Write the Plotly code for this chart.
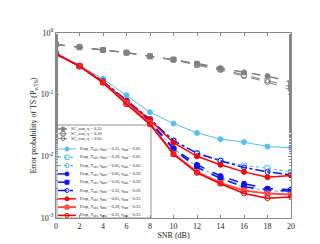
import plotly.graph_objects as go

snr = [0, 2, 4, 6, 8, 10, 12, 14, 16, 18, 20]
snr_ticks = [0, 2, 4, 6, 8, 10, 12, 14, 16, 18, 20]

sc_035 = [0.65, 0.59, 0.53, 0.48, 0.42, 0.37, 0.32, 0.27, 0.23, 0.20, 0.16]
sc_020 = [0.65, 0.59, 0.53, 0.48, 0.42, 0.37, 0.31, 0.26, 0.21, 0.17, 0.135]
sc_005 = [0.65, 0.59, 0.53, 0.48, 0.42, 0.37, 0.30, 0.25, 0.20, 0.16, 0.12]

lb_035 = [0.46, 0.30, 0.18, 0.098, 0.052, 0.034, 0.024, 0.019, 0.017, 0.0144, 0.0138]
lb_020 = [0.46, 0.29, 0.165, 0.080, 0.040, 0.018, 0.0112, 0.0085, 0.0071, 0.0064, 0.0056]
lb_005 = [0.46, 0.29, 0.16, 0.076, 0.036, 0.0135, 0.0068, 0.0045, 0.0031, 0.0028, 0.0026]

b_005 = [0.46, 0.29, 0.16, 0.077, 0.037, 0.0135, 0.0073, 0.0048, 0.0036, 0.0030, 0.0029]
b_020 = [0.46, 0.29, 0.16, 0.076, 0.036, 0.013, 0.0066, 0.0044, 0.0032, 0.0029, 0.0027]
b_035 = [0.46, 0.29, 0.165, 0.080, 0.040, 0.018, 0.0112, 0.0085, 0.0066, 0.0056, 0.0050]

r_005 = [0.46, 0.29, 0.162, 0.078, 0.039, 0.0166, 0.010, 0.0073, 0.0056, 0.0046, 0.0049]
r_020 = [0.46, 0.29, 0.158, 0.072, 0.034, 0.011, 0.0056, 0.0037, 0.0028, 0.0025, 0.0024]
r_035 = [0.46, 0.29, 0.157, 0.070, 0.033, 0.0108, 0.0054, 0.0036, 0.0025, 0.0021, 0.0022]

y_tickvals = [0.001, 0.01, 0.1, 1]
y_ticktext = ["10<sup>-3</sup>", "10<sup>-2</sup>", "10<sup>-1</sup>", "10<sup>0</sup>"]

def prop(a, b):
    return f"Prop_T<sub>ssif</sub>, η<sub>min</sub> = {a}, η<sub>fast</sub> = {b}"

labels = [
    "SC_con, η = 0.35", "SC_con, η = 0.20", "SC_con, η = 0.05",
    prop("0.35", "0.05"), prop("0.20", "0.05"), prop("0.05", "0.05"),
    prop("0.05", "0.20"), prop("0.20", "0.20"), prop("0.35", "0.20"),
    prop("0.05", "0.35"), prop("0.20", "0.35"), prop("0.35", "0.35"),
]
values = [sc_035, sc_020, sc_005, lb_035, lb_020, lb_005,
          b_005, b_020, b_035, r_005, r_020, r_035]
styles = [
    ("#808080", "dash", 1.5, "circle"),
    ("#808080", "dash", 1.0, "square-open"),
    ("#808080", "dash", 1.0, "circle-open"),
    ("#5bbdf0", "solid", 1.0, "circle"),
    ("#5bbdf0", "dot", 1.2, "square-open"),
    ("#5bbdf0", "dot", 1.2, "circle-open"),
    ("#0a14f0", "dash", 1.5, "circle"),
    ("#0a14f0", "dash", 1.5, "square"),
    ("#0a14f0", "dashdot", 1.5, "circle-open"),
    ("#ff0000", "solid", 1.5, "circle"),
    ("#ff5050", "solid", 2.0, "square"),
    ("#ee0000", "solid", 1.5, "circle-open"),
]

fig = go.Figure()
for name, ys, (col, dash, w, sym) in zip(labels, values, styles):
    fig.add_trace(go.Scatter(
        x=snr, y=ys, name=name, mode="lines+markers", showlegend=False,
        line=dict(color=col, dash=dash, width=w),
        marker=dict(symbol=sym, size=5, color=col, line=dict(color=col, width=1)),
    ))

# ---- hand-built legend on an overlay axis (pixel-like units) ----
L_LEFT, L_RIGHT, L_TOP, L_BOT = 49, 143, 117, 210
PLOT_L, PLOT_R, PLOT_T, PLOT_B = 48, 283, 25, 210
rows = [121, 125.8, 130.6] + [141 + 8.3 * i for i in range(9)]
for i, (name, (col, dash, w, sym)) in enumerate(zip(labels, styles)):
    yrow = rows[i]
    if i < 3:
        x0, x1, xm, xt = 50, 60, 55, 60.5
    else:
        x0, x1, xm, xt = 50, 68, 59, 69.5
    fig.add_trace(go.Scatter(
        x=[x0, xm, x1], y=[yrow, yrow, yrow], mode="lines", xaxis="x2", yaxis="y2",
        showlegend=False, hoverinfo="skip",
        line=dict(color=col, dash=dash, width=w),
    ))
    fig.add_trace(go.Scatter(
        x=[xm], y=[yrow], mode="markers", xaxis="x2", yaxis="y2",
        showlegend=False, hoverinfo="skip",
        marker=dict(symbol=sym, size=4, color=col, line=dict(color=col, width=1)),
    ))
    fig.add_annotation(
        x=xt, y=yrow, xref="x2", yref="y2", text=name, showarrow=False,
        xanchor="left", yanchor="middle",
        font=dict(size=4.4, family="Liberation Serif", color="#222"),
    )

fig.add_shape(type="rect", xref="x2", yref="y2", x0=L_LEFT, x1=L_RIGHT, y0=L_TOP, y1=L_BOT,
              line=dict(color="#666", width=0.7), fillcolor="white", layer="below")

fig.update_layout(
    width=320, height=244,
    margin=dict(l=PLOT_L, r=320 - PLOT_R, t=PLOT_T, b=244 - PLOT_B),
    paper_bgcolor="white", plot_bgcolor="white",
    font=dict(family="Liberation Serif", size=8, color="#222"),
    showlegend=False,
    xaxis=dict(
        range=[0, 20], tickmode="array", tickvals=snr_ticks,
        showline=True, linecolor="#888", linewidth=1, mirror="ticks",
        ticks="inside", ticklen=3, tickcolor="#888", showgrid=False, zeroline=False,
        title=dict(text="SNR (dB)", standoff=2, font=dict(size=8)),
        tickfont=dict(size=8, color="#222"),
    ),
    yaxis=dict(
        type="log", range=[-3, 0], tickmode="array",
        tickvals=y_tickvals, ticktext=y_ticktext,
        showline=True, linecolor="#888", linewidth=1, mirror="ticks",
        ticks="inside", ticklen=3, tickcolor="#888", showgrid=False, zeroline=False,
        minor=dict(ticks="inside", ticklen=2, tickcolor="#888", showgrid=False),
        title=dict(text="Error probability of TS (P<sub>e,TS</sub>)", standoff=2, font=dict(size=8)),
        tickfont=dict(size=8, color="#222"),
    ),
    xaxis2=dict(domain=[0, 1], range=[PLOT_L, PLOT_R], visible=False, anchor="y2",
                overlaying="x", showgrid=False, zeroline=False),
    yaxis2=dict(domain=[0, 1], range=[PLOT_B, PLOT_T], visible=False, anchor="x2",
                overlaying="y", showgrid=False, zeroline=False),
)

fig.write_html("out.html")
